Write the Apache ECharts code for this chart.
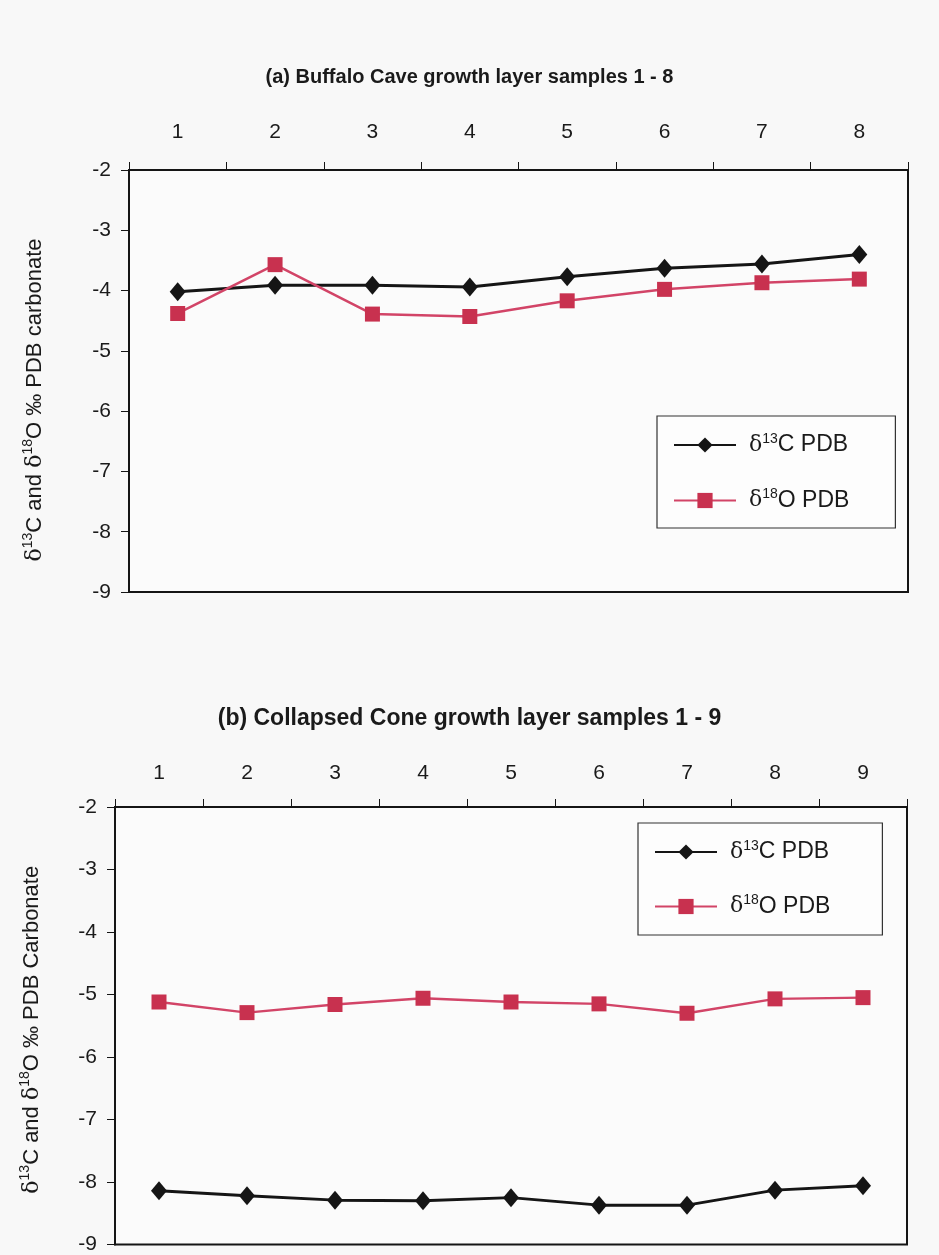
<!DOCTYPE html>
<html>
<head>
<meta charset="utf-8">
<script src="https://cdn.jsdelivr.net/npm/echarts@6/dist/echarts.min.js"></script>
<style>
html,body{margin:0;padding:0;background:#f8f8f8;}
#c{width:939px;height:1255px;}
</style>
</head>
<body>
<div id="c"></div>
<script>
// ---- data ----
const titleA = '(a) Buffalo Cave growth layer samples 1 - 8';
const titleB = '(b) Collapsed Cone growth layer samples 1 - 9';
const samplesA = ['1', '2', '3', '4', '5', '6', '7', '8'];
const carbonA = [-4.02, -3.91, -3.91, -3.94, -3.77, -3.63, -3.56, -3.40];
const oxygenA = [-4.38, -3.57, -4.39, -4.43, -4.17, -3.98, -3.87, -3.81];
const samplesB = ['1', '2', '3', '4', '5', '6', '7', '8', '9'];
const carbonB = [-8.14, -8.22, -8.29, -8.30, -8.25, -8.37, -8.37, -8.13, -8.06];
const oxygenB = [-5.12, -5.29, -5.16, -5.06, -5.12, -5.15, -5.30, -5.07, -5.05];
const yMin = -9, yMax = -2, yStep = 1;
const nameC = 'δ13C PDB', nameO = 'δ18O PDB';
const yNameA = '{d|δ}{s|13}{t|C and }{d|δ}{s|18}{t|O ‰ PDB carbonate}';
const yNameB = '{d|δ}{s|13}{t|C and }{d|δ}{s|18}{t|O ‰ PDB Carbonate}';

// ---- styles ----
const FONT = 'Liberation Sans, Arial, sans-serif';
const BLACK = '#151515';
const RED = '#c8314f';
const RED_LINE = '#d24467';
const richName = {
  d: {fontFamily: 'DejaVu Serif', fontSize: 22, color: '#1a1a1a', lineHeight: 28},
  s: {fontFamily: FONT, fontSize: 14, color: '#1a1a1a', verticalAlign: 'top', lineHeight: 28, padding: [0, 0, 8, 0]},
  t: {fontFamily: FONT, fontSize: 22, color: '#1a1a1a', lineHeight: 28}
};
const richLegend = {
  d: {fontFamily: 'DejaVu Serif', fontSize: 22, color: '#1a1a1a', lineHeight: 26},
  s: {fontFamily: FONT, fontSize: 14, color: '#1a1a1a', verticalAlign: 'top', lineHeight: 26, padding: [0, 0, 8, 0]},
  t: {fontFamily: FONT, fontSize: 23, color: '#1a1a1a', lineHeight: 26}
};
function legendFmt(n) {
  return n === nameC ? '{d|δ}{s|13}{t|C PDB}' : '{d|δ}{s|18}{t|O PDB}';
}

function xAxis(gi, cats, margin) {
  return {
    type: 'category', gridIndex: gi, data: cats, position: 'top', boundaryGap: true,
    axisLine: {show: true, lineStyle: {color: BLACK, width: 2}},
    axisTick: {show: true, inside: false, length: 8, lineStyle: {color: BLACK, width: 1}},
    axisLabel: {fontFamily: FONT, fontSize: 21, color: '#1a1a1a', margin: margin},
    splitLine: {show: false}
  };
}
function yAxis(gi, name, pad, gap) {
  return {
    type: 'value', gridIndex: gi, min: yMin, max: yMax, interval: yStep,
    name: name, nameLocation: 'middle', nameRotate: 90, nameGap: gap,
    nameTextStyle: {rich: richName, padding: pad},
    axisLine: {show: true, lineStyle: {color: BLACK, width: 2}},
    axisTick: {show: true, inside: false, length: 8, lineStyle: {color: BLACK, width: 1}},
    axisLabel: {fontFamily: FONT, fontSize: 21, color: '#1a1a1a', margin: 18},
    splitLine: {show: false}
  };
}
function seriesC(gi, data) {
  return {
    name: nameC, type: 'line', xAxisIndex: gi, yAxisIndex: gi, data: data,
    symbol: 'diamond', symbolSize: [16, 19],
    lineStyle: {color: BLACK, width: 3}, itemStyle: {color: BLACK},
    animation: false
  };
}
function seriesO(gi, data) {
  return {
    name: nameO, type: 'line', xAxisIndex: gi, yAxisIndex: gi, data: data,
    symbol: 'rect', symbolSize: 15,
    lineStyle: {color: RED_LINE, width: 2.5}, itemStyle: {color: RED},
    animation: false
  };
}
function legend(left, top, pad, gap) {
  return {
    orient: 'vertical', left: left, top: top, data: [nameC, nameO],
    backgroundColor: '#fdfdfd', borderColor: '#333', borderWidth: 1.2,
    padding: pad, itemGap: gap, itemWidth: 62, itemHeight: 19,
    formatter: legendFmt,
    textStyle: {rich: richLegend, padding: [0, 0, 0, 8]},
    selectedMode: false
  };
}

const chart = echarts.init(document.getElementById('c'), null, {renderer: 'canvas'});
chart.setOption({
  backgroundColor: '#f8f8f8',
  animation: false,
  title: [
    {text: titleA, left: 'center', top: 62,
     textStyle: {fontFamily: FONT, fontSize: 20, fontWeight: 'bold', color: '#1a1a1a'}},
    {text: titleB, left: 'center', top: 702,
     textStyle: {fontFamily: FONT, fontSize: 23, fontWeight: 'bold', color: '#1a1a1a'}}
  ],
  grid: [
    {left: 129, top: 170, width: 779, height: 422, show: true, backgroundColor: '#fbfbfb',
     borderColor: BLACK, borderWidth: 2},
    {left: 115, top: 807, width: 792, height: 441, show: true, backgroundColor: '#fbfbfb',
     borderColor: BLACK, borderWidth: 2}
  ],
  xAxis: [xAxis(0, samplesA, 27), xAxis(1, samplesB, 23)],
  yAxis: [yAxis(0, yNameA, [0, 38, 0, 0], 80), yAxis(1, yNameB, [0, 8, 0, 0], 69)],
  legend: [
    legend(657, 416, [16, 46, 16, 16], 31),
    legend(638, 823, [16, 52, 17, 16], 30)
  ],
  series: [seriesC(0, carbonA), seriesO(0, oxygenA), seriesC(1, carbonB), seriesO(1, oxygenB)]
});
</script>
</body>
</html>
